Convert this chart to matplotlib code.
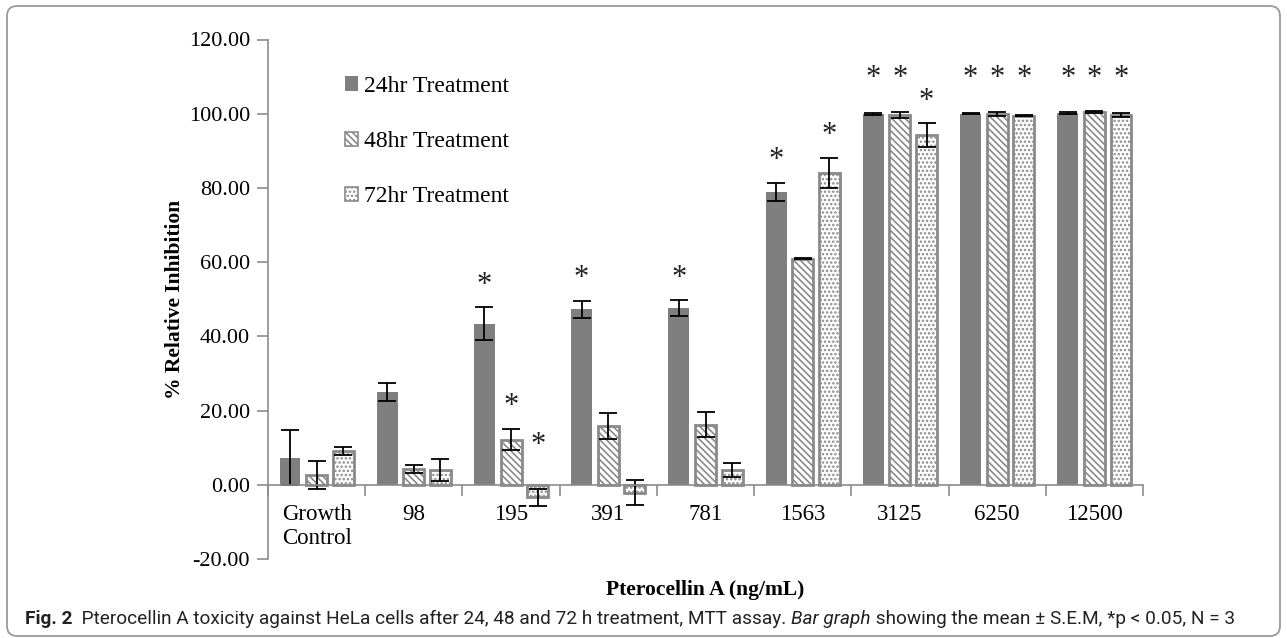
import numpy as np
import matplotlib
matplotlib.use("Agg")
import matplotlib.pyplot as plt
from matplotlib.patches import Patch, FancyBboxPatch
from matplotlib.transforms import IdentityTransform
from matplotlib import font_manager as fm

# ---------------- data ----------------
categories = ["Growth\nControl", "98", "195", "391", "781", "1563", "3125", "6250", "12500"]
series_names = ["24hr Treatment", "48hr Treatment", "72hr Treatment"]

mean_24 = [7.3, 25.0, 43.4, 47.3, 47.6, 78.9, 99.9, 100.0, 100.1]
sem_24 = [7.4, 2.4, 4.4, 2.3, 2.1, 2.4, 0.3, 0.1, 0.3]
mean_48 = [2.7, 4.3, 12.2, 15.9, 16.2, 60.9, 99.6, 99.9, 100.5]
sem_48 = [3.8, 1.1, 2.8, 3.5, 3.4, 0.1, 0.8, 0.5, 0.3]
mean_72 = [9.1, 3.9, -3.4, -2.1, 4.0, 84.0, 94.2, 99.5, 99.6]
sem_72 = [1.0, 3.0, 2.3, 3.3, 1.9, 4.0, 3.2, 0.2, 0.5]

sig_24 = [0, 0, 1, 1, 1, 1, 1, 1, 1]
sig_48 = [0, 0, 1, 0, 0, 0, 1, 1, 1]
sig_72 = [0, 0, 1, 0, 0, 1, 1, 1, 1]

yticks = [-20, 0, 20, 40, 60, 80, 100, 120]
xlabel = "Pterocellin A (ng/mL)"
ylabel = "% Relative Inhibition"

# ---------------- figure ----------------
W, H, DPI = 1287, 638, 100
fig = plt.figure(figsize=(W / DPI, H / DPI), dpi=DPI)
fig.patch.set_facecolor("white")

left, right = 268 / W, 1143 / W
top, bottom = 1 - 39.5 / H, 1 - 559 / H
ax = fig.add_axes([left, bottom, right - left, top - bottom])

serif = "Liberation Serif"
gray_axis = "#8c8c8c"
dark = "#7f7f7f"
edge = "#8a8a8a"

plt.rcParams["hatch.linewidth"] = 1.2

x = np.arange(len(categories))
off = 0.274
bw = 0.215
err_kw = dict(elinewidth=1.3, capthick=1.3, ecolor="black", capsize=6.5)

means = [mean_24, mean_48, mean_72]
sems = [sem_24, sem_48, sem_72]
sigs = [sig_24, sig_48, sig_72]
styles = [
    dict(facecolor=dark, edgecolor=dark, linewidth=0),
    dict(facecolor="white", edgecolor=edge, hatch="\\\\\\\\\\", linewidth=2.0),
    dict(facecolor="white", edgecolor=edge, hatch="....", linewidth=2.0),
]

handles = []
for i, (m, s, st) in enumerate(zip(means, sems, styles)):
    pos = x + (i - 1) * off
    ax.bar(pos, m, bw, yerr=s, error_kw=err_kw, zorder=2, **st)
    hst = dict(st)
    if i > 0:
        hst["linewidth"] = 1.2
    handles.append(Patch(label=series_names[i], **hst))
    m_arr, s_arr = np.array(m), np.array(s)
    tops = m_arr + s_arr
    star_y = np.where(tops > 99, 109.5, np.maximum(tops, 4.5) + 6.0)
    for px, sy, flag in zip(pos, star_y, sigs[i]):
        if flag:
            ax.text(px, sy, "*", ha="center", va="center", fontsize=22,
                    family=serif, color="#222222")

ax.set_xlim(-0.5, len(categories) - 0.5)
ax.set_ylim(-20, 120)
ax.set_yticks(yticks)
ax.set_yticklabels([f"{v:.2f}" for v in yticks])

ax.set_xticks(np.arange(-0.5, len(categories), 1.0))
ax.set_xticklabels([])
ax.set_xticks(x, minor=True)
ax.set_xticklabels(categories, minor=True)
ax.tick_params(axis="x", which="major", length=8, width=1.2, color=gray_axis, direction="out")
ax.tick_params(axis="x", which="minor", length=0, pad=14, labelsize=16.5,
               labelfontfamily=serif)
ax.tick_params(axis="y", length=8, width=1.2, color=gray_axis, direction="out", pad=5,
               labelsize=16, labelfontfamily=serif)
for t in ax.get_xticklabels(minor=True):
    t.set_linespacing(1.1)

for sp in ["top", "right"]:
    ax.spines[sp].set_visible(False)
ax.spines["bottom"].set_position(("data", 0))
for sp in ["left", "bottom"]:
    ax.spines[sp].set_color(gray_axis)
    ax.spines[sp].set_linewidth(1.2)

fig.text(175 / W, (top + bottom) / 2, ylabel, family=serif, fontsize=15.5,
         fontweight="bold", rotation=90, ha="center", va="center")
fig.text((left + right) / 2, 1 - 590 / H, xlabel, family=serif, fontsize=15.5,
         fontweight="bold", ha="center", va="center")

leg = ax.legend(handles=handles, loc="upper left", bbox_to_anchor=(0.088, 0.93),
                frameon=False, prop=dict(family=serif, size=17), handlelength=0.55,
                handleheight=0.55, handletextpad=0.25, labelspacing=1.45, borderpad=0,
                borderaxespad=0)

# outer rounded frame
frame = FancyBboxPatch((7, 2), W - 14, H - 8, boxstyle="round,pad=0,rounding_size=10",
                       transform=IdentityTransform(), facecolor="none",
                       edgecolor="#9a9a9a", linewidth=1.3)
fig.patches.append(frame)
frame.set_figure(fig)

# caption with mixed styles
names = {f.name for f in fm.fontManager.ttflist}
cap_font = "Liberation Sans Narrow" if "Liberation Sans Narrow" in names else "Roboto"
pieces = [
    ("Fig. 2", dict(fontweight="bold")),
    ("  Pterocellin A toxicity against HeLa cells after 24, 48 and 72 h treatment, MTT assay. ", {}),
    ("Bar graph", dict(style="italic")),
    (" showing the mean \u00b1 S.E.M, *p < 0.05, N = 3", {}),
]
x_start, x_end, cap_y = 25, 1243, 1 - 619 / H
renderer = fig.canvas.get_renderer()


def layout(fs):
    texts, xc = [], x_start
    for s, kw in pieces:
        t = fig.text(xc / W, cap_y, s, family=cap_font, fontsize=fs, va="center",
                     ha="left", color="#222222", **kw)
        wpx = t.get_window_extent(renderer).width
        texts.append(t)
        xc += wpx
    return texts, xc


texts, xe = layout(14)
scale = (x_end - x_start) / (xe - x_start)
for t in texts:
    t.remove()
texts, xe = layout(14 * scale)

fig.savefig("out.png", dpi=DPI, facecolor="white")
